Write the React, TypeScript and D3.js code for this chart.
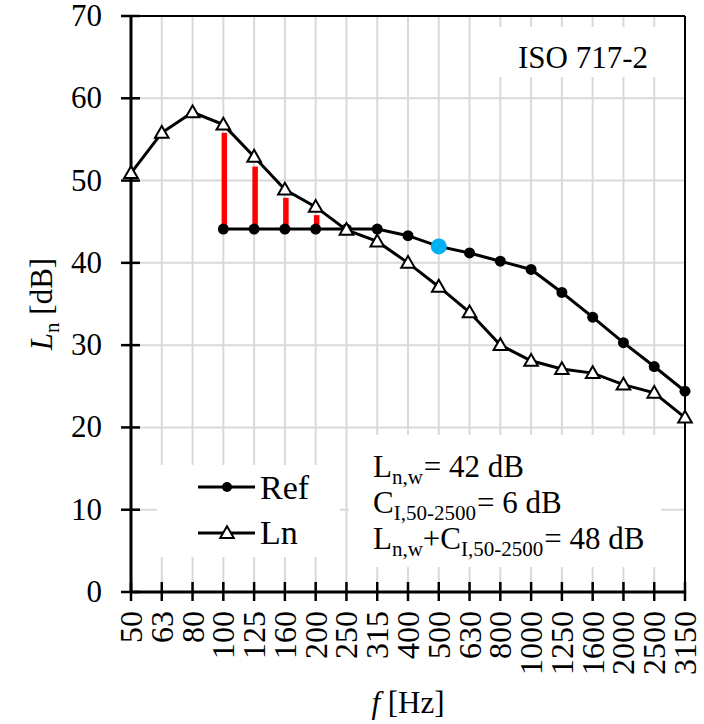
import React from "react";
import * as d3 from "d3";

const categories = ["50","63","80","100","125","160","200","250","315","400","500","630","800","1000","1250","1600","2000","2500","3150"];
const lnValues = [50.9,55.8,58.3,56.8,52.9,48.9,46.8,44.0,42.6,40.0,37.1,34.0,30.0,28.1,27.1,26.6,25.2,24.2,21.2];
const refCategories = ["100","125","160","200","250","315","400","500","630","800","1000","1250","1600","2000","2500","3150"];
const refValues = [44.1,44.1,44.1,44.1,44.1,44.1,43.3,42.0,41.2,40.2,39.2,36.4,33.4,30.3,27.4,24.4];
const devCategories = ["100","125","160","200"];
const devLow = [44.6,44.6,44.6,44.6];
const devHigh = [55.8,51.7,47.9,45.8];
const lnwCategory = "500";
const lnwValue = 42;
const yTicks = [0,10,20,30,40,50,60,70];

const W = 704, H = 724;
const left = 131, right = 685, top = 16, bottom = 592;
const FONT = "'Liberation Serif', 'Times New Roman', serif";

export default function App() {
  const x = d3.scalePoint<string>().domain(categories).range([left, right]);
  const y = d3.scaleLinear().domain([0, 70]).range([bottom, top]);
  const lnPts: [number, number][] = categories.map((c, i) => [x(c)!, y(lnValues[i])]);
  const refPts: [number, number][] = refCategories.map((c, i) => [x(c)!, y(refValues[i])]);
  const line = d3.line();
  const tri = d3.symbol().type(d3.symbolTriangle).size(80);
  const grid = "#d9d9d9";

  return (
    <svg width={W} height={H} style={{ position: "absolute", left: 0, top: 0, background: "#fff" }}
      fontFamily={FONT}>
      <rect x={0} y={0} width={W} height={H} fill="#fff" />
      {/* gridlines */}
      {categories.slice(1, -1).map((c) => (
        <line key={"gx" + c} x1={x(c)} x2={x(c)} y1={top} y2={bottom} stroke={grid} strokeWidth={2} />
      ))}
      {yTicks.slice(1, -1).map((t) => (
        <line key={"gy" + t} x1={left} x2={right} y1={y(t)} y2={y(t)} stroke={grid} strokeWidth={2} />
      ))}
      {/* text boxes covering grid */}
      <rect x={490} y={27} width={175} height={50} fill="#fff" />
      <rect x={157} y={465} width={183} height={92} fill="#fff" />
      <rect x={349} y={435} width={312} height={132} fill="#fff" />

      {/* borders */}
      <line x1={left} x2={right} y1={top} y2={top} stroke="#000" strokeWidth={2} />
      <line x1={right} x2={right} y1={top} y2={bottom} stroke="#000" strokeWidth={2} />
      <line x1={left} x2={left} y1={top - 1} y2={bottom + 1} stroke="#000" strokeWidth={3} />
      <line x1={left - 1} x2={right + 1} y1={bottom} y2={bottom} stroke="#000" strokeWidth={3} />
      {yTicks.map((t) => (
        <g key={"yt" + t}>
          <line x1={left - 10} x2={left + 9} y1={y(t)} y2={y(t)} stroke="#000" strokeWidth={2.5} />
          <text x={102} y={y(t) + 10} fontSize={31} textAnchor="end">{t}</text>
        </g>
      ))}
      {categories.map((c) => (
        <g key={"xt" + c}>
          <line x1={x(c)} x2={x(c)} y1={bottom - 10} y2={bottom + 9} stroke="#000" strokeWidth={2.5} />
          <text transform={`translate(${x(c)! + 11},611) rotate(-90)`} fontSize={32} textAnchor="end">{c}</text>
        </g>
      ))}
      {/* axis titles */}
      <text transform={`translate(52,304) rotate(-90)`} fontSize={31} textAnchor="middle">
        <tspan fontStyle="italic">L</tspan>
        <tspan fontSize={21} dy={7}>n</tspan>
        <tspan dy={-7}> [dB]</tspan>
      </text>
      <text x={408} y={713} fontSize={31} textAnchor="middle">
        <tspan fontStyle="italic">f</tspan>
        <tspan> [Hz]</tspan>
      </text>

      {/* ISO label */}
      <text x={518} y={68} fontSize={31}>ISO 717-2</text>

      {/* deviation bars */}
      {devCategories.map((c, i) => (
        <line key={"dev" + c} x1={x(c)! + 1} x2={x(c)! + 1} y1={y(devLow[i])} y2={y(devHigh[i])} stroke="#ff0000" strokeWidth={5.5} />
      ))}

      {/* series */}
      <path d={line(refPts)!} fill="none" stroke="#000" strokeWidth={3} />
      <path d={line(lnPts)!} fill="none" stroke="#000" strokeWidth={3} />
      {refPts.map((p, i) => (
        <circle key={"rp" + i} cx={p[0]} cy={p[1]} r={5.5} fill="#000" />
      ))}
      {lnPts.map((p, i) => (
        <path key={"lp" + i} d={tri()!} transform={`translate(${p[0]},${p[1] + 1})`} fill="#fff" stroke="#000" strokeWidth={2} />
      ))}
      <circle cx={x(lnwCategory)} cy={y(lnwValue)} r={8} fill="#00b0f0" />

      {/* legend */}
      <line x1={198} x2={255} y1={487} y2={487} stroke="#000" strokeWidth={3} />
      <circle cx={227} cy={487} r={5} fill="#000" />
      <text x={260} y={499} fontSize={34}>Ref</text>
      <line x1={198} x2={255} y1={533} y2={533} stroke="#000" strokeWidth={3} />
      <path d={tri()!} transform={`translate(227,534)`} fill="#fff" stroke="#000" strokeWidth={2} />
      <text x={260} y={544} fontSize={34}>Ln</text>

      {/* annotation */}
      <text x={373} y={477} fontSize={31}>
        <tspan>L</tspan><tspan fontSize={21} dy={7}>n,w</tspan><tspan dy={-7} dx={1}>= 42 dB</tspan>
      </text>
      <text x={373} y={513} fontSize={31}>
        <tspan>C</tspan><tspan fontSize={21} dy={7}>I,50-2500</tspan><tspan dy={-7} dx={1}>= 6 dB</tspan>
      </text>
      <text x={373} y={549} fontSize={31}>
        <tspan>L</tspan><tspan fontSize={21} dy={7}>n,w</tspan><tspan dy={-7}>+C</tspan><tspan fontSize={21} dy={7}>I,50-2500</tspan><tspan dy={-7} dx={1}>= 48 dB</tspan>
      </text>
    </svg>
  );
}
